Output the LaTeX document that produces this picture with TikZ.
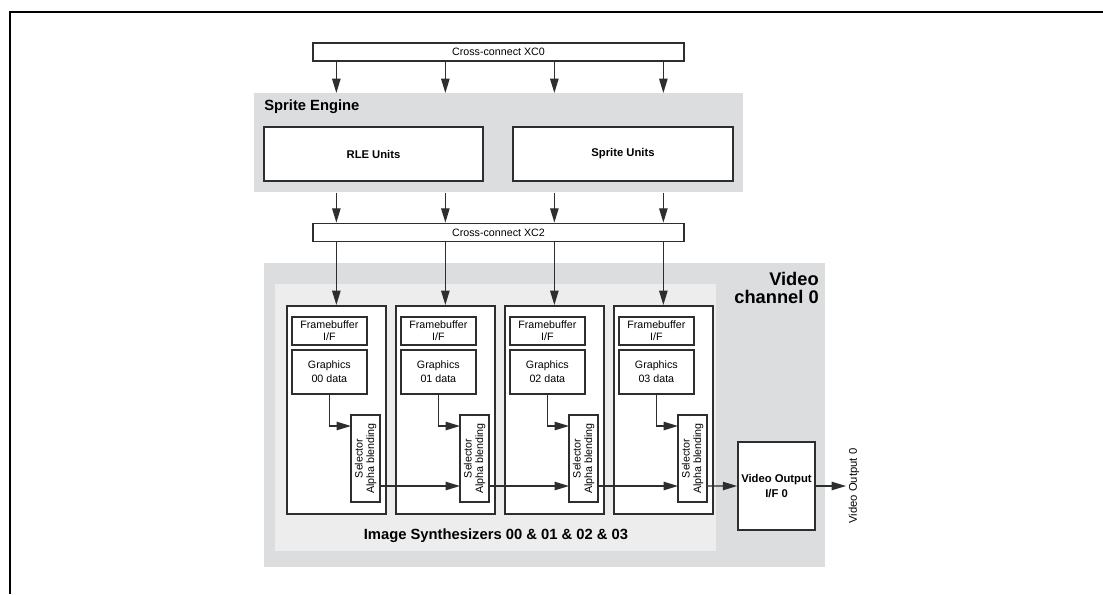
\documentclass[tikz,border=0pt]{standalone}
\usepackage{fontspec}
\setmainfont{Liberation Sans}
\usetikzlibrary{arrows.meta,calc}
\definecolor{ink}{HTML}{2E2E2E}
\definecolor{shade}{HTML}{DCDDDF}
\definecolor{pale}{HTML}{EDEDED}

\begin{document}
\begin{tikzpicture}[x=0.025cm,y=-0.025cm,>={Triangle[length=0.36cm,width=0.21cm]}]
\tikzset{
  blk/.style={draw=ink,line width=1.2pt,fill=white,inner sep=0pt,align=center,
    font=\fontsize{7.6}{8.2}\selectfont},
  bus/.style={blk,minimum width=9.275cm,minimum height=0.45cm},
  unit/.style={blk,minimum height=1.35cm,font=\fontsize{8}{9}\selectfont\bfseries},
  region/.style={fill=#1,inner sep=0pt,anchor=north west},
  wire/.style={->,ink,line width=0.95pt},
  title/.style={inner sep=0pt,font=\fontsize{10.5}{12}\selectfont\bfseries}
}
\useasboundingbox (0,0) rectangle (1103,594);
\draw[line width=1.9pt] (10,594)--(10,12)--(1103,12);

% Sprite engine
\node[region=shade,minimum width=12.225cm,minimum height=2.475cm] (se) at (254,93) {};
\node[title,anchor=base west] (selbl) at (264,110) {Sprite Engine};
\node[unit,minimum width=5.475cm] (rle) at (373.5,154) {RLE Units};
\node[unit,minimum width=5.5cm] (spr) at (623,154) {Sprite Units};

\node[bus] (xc0) at (498.5,52) {Cross-connect XC0};
\node[bus] (xc2) at (498.5,232.5) {Cross-connect XC2};

% Video channel
\node[region=shade,minimum width=14.025cm,minimum height=7.6cm] (vc) at (264,263) {};
\node[region=pale,minimum width=11.025cm,minimum height=6.675cm] (isr) at (275,284) {};
\node[inner sep=0pt,anchor=north east,align=right,font=\fontsize{13}{12.8}\selectfont\bfseries]
  (vclbl) at (819,272) {Video\\channel 0};
\node[title,anchor=base] (islbl) at (496,539) {Image Synthesizers 00 \& 01 \& 02 \& 03};

\foreach \i in {0,...,3}{
  \node[blk,anchor=north west,minimum width=2.475cm,minimum height=5.2cm]
    (is\i) at (286+109*\i,305) {};
  \node[blk,anchor=north west,minimum width=1.875cm,minimum height=0.7cm]
    (fb\i) at (291+109*\i,316) {Framebuffer\\I/F};
  \node[blk,anchor=north west,minimum width=1.875cm,minimum height=1.1cm,
    font=\fontsize{7.6}{10}\selectfont] (gd\i) at (291+109*\i,349) {Graphics\\0\i{} data};
  \node[blk,rotate=90,minimum width=2.175cm,minimum height=0.725cm]
    (sel\i) at (365.5+109*\i,458.5) {Selector\\Alpha blending};
  \draw[wire] (gd\i.south) |- ($(sel\i.center)+(-14.5,-32.5)$);
  \draw[wire] (xc0.south -| is\i.north) -- (se.north -| is\i.north);
  \draw[wire] (se.south -| is\i.north) -- (xc2.north -| is\i.north);
  \draw[wire] (xc2.south -| is\i.north) -- (is\i.north);
}
\foreach \i/\j in {0/1,1/2,2/3}{
  \draw[wire] ($(sel\i.center)+(14.5,27.5)$) -- ($(sel\j.center)+(-14.5,27.5)$);
}

\node[blk,minimum width=1.925cm,minimum height=2.2cm,font=\fontsize{8}{10}\selectfont\bfseries]
  (vo) at (776.5,486) {Video Output\\I/F 0};
\draw[wire] ($(sel3.center)+(14.5,27.5)$) -- (vo.west);
\coordinate (vout) at (846,486);
\draw[wire] (vo.east) -- (vout);
\node[rotate=90,inner sep=0pt,font=\fontsize{8}{9}\selectfont] (voutlbl) at (854,486) {Video Output 0};
\end{tikzpicture}
\end{document}
